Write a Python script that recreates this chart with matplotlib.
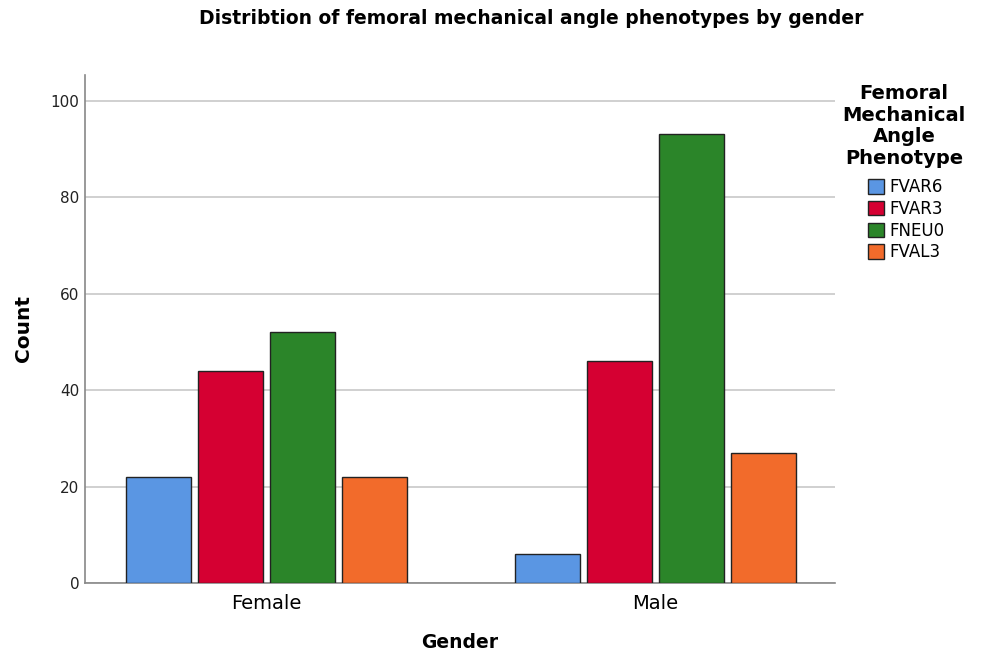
import matplotlib
matplotlib.use("Agg")
import matplotlib.pyplot as plt
import numpy as np

genders = ["Female", "Male"]
phenotypes = ["FVAR6", "FVAR3", "FNEU0", "FVAL3"]
counts = {
    "FVAR6": [22, 6],
    "FVAR3": [44, 46],
    "FNEU0": [52, 93],
    "FVAL3": [22, 27],
}
colors = ["#5A96E3", "#D50032", "#2B8529", "#F26B2B"]
yticks = [0, 20, 40, 60, 80, 100]

plt.rcParams['font.family'] = ['DejaVu Sans']

fig = plt.figure(figsize=(9.82, 6.55), dpi=100)
ax = fig.add_axes([85/982, 1-583/655, 750/982, 508/655])

x = np.arange(len(genders))
step = 0.185
width = 0.167
for i, (p, c) in enumerate(zip(phenotypes, colors)):
    ax.bar(x + (i - 1.5) * step, counts[p], width=width, color=c,
           edgecolor="#222222", linewidth=1.0, label=p, zorder=3)

ax.set_xlim(-0.4666, 1.4614)
ax.set_ylim(0, 105.3)
ax.set_yticks(yticks)
ax.set_yticklabels([str(v) for v in yticks], fontsize=11)
ax.set_xticks(x)
ax.set_xticklabels(genders, fontsize=14)
ax.tick_params(axis='y', length=0, pad=4, colors="#222222")
ax.tick_params(axis='x', length=0, pad=8)
ax.grid(axis='y', color="#C8C8C8", linewidth=1.2, zorder=0)
for s in ["top", "right"]:
    ax.spines[s].set_visible(False)
ax.spines["left"].set_color("#888888")
ax.spines["bottom"].set_color("#888888")
ax.spines["left"].set_linewidth(1.2)
ax.spines["bottom"].set_linewidth(1.2)

ax.set_ylabel("Count", fontsize=14.5, fontweight="bold", labelpad=13)
ax.set_xlabel("Gender", fontsize=13.5, fontweight="bold", labelpad=14)
fig.suptitle("Distribtion of femoral mechanical angle phenotypes by gender",
             fontsize=13.5, fontweight="bold", x=531/982, y=1-9/655)

fig.text(904/982, 1-84/655, "Femoral\nMechanical\nAngle\nPhenotype",
         ha="center", va="top", multialignment="center",
         fontsize=14, fontweight="bold", linespacing=1.17)

leg = fig.legend(loc="upper center", bbox_to_anchor=(906/982, 1-170/655),
                 frameon=False, fontsize=12, handlelength=1.0, handleheight=0.95,
                 handletextpad=0.3, labelspacing=0.22, borderpad=0)
for h in leg.legend_handles:
    h.set_edgecolor("#222222")

fig.savefig("out.png", dpi=100)
